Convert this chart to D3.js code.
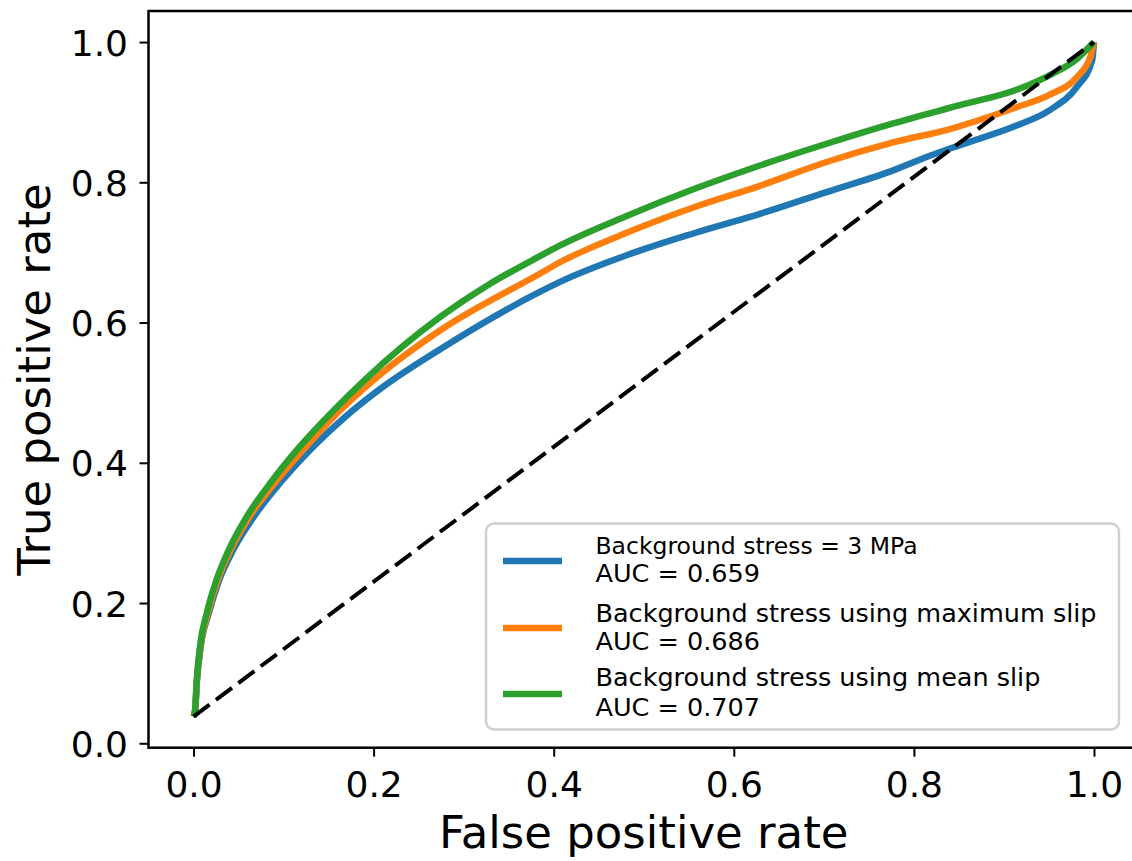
<!DOCTYPE html>
<html>
<head>
<meta charset="utf-8">
<script src="https://cdn.jsdelivr.net/npm/d3@7"></script>
<style>
  html, body { margin: 0; padding: 0; background: #fff; }
  svg { display: block; font-family: "DejaVu Sans", sans-serif; }
</style>
</head>
<body>
<svg id="chart" width="1132" height="861"></svg>
<script>
// ---- data ----
const tickValues = [0.0, 0.2, 0.4, 0.6, 0.8, 1.0];

const blueFpr  = [0, 0.0018, 0.0039, 0.008, 0.0168, 0.028, 0.045, 0.068, 0.098, 0.133, 0.168, 0.207, 0.274, 0.385, 0.407, 0.481, 0.555, 0.629, 0.703, 0.777, 0.814, 0.851, 0.914, 0.951, 0.981, 0.998, 1.0];
const blueTpr  = [0.038, 0.047, 0.09, 0.138, 0.185, 0.231, 0.278, 0.325, 0.374, 0.423, 0.465, 0.505, 0.562, 0.644, 0.658, 0.696, 0.727, 0.755, 0.786, 0.817, 0.836, 0.853, 0.881, 0.903, 0.936, 0.974, 1.0];

const orangeFpr = [0, 0.0017, 0.0037, 0.0076, 0.0158, 0.0265, 0.042, 0.063, 0.092, 0.125, 0.159, 0.198, 0.274, 0.385, 0.407, 0.481, 0.555, 0.629, 0.703, 0.777, 0.84, 0.914, 0.951, 0.981, 0.996, 1.0];
const orangeTpr = [0.038, 0.047, 0.09, 0.138, 0.185, 0.231, 0.278, 0.325, 0.374, 0.423, 0.47, 0.516, 0.589, 0.67, 0.686, 0.728, 0.764, 0.795, 0.829, 0.857, 0.876, 0.907, 0.925, 0.95, 0.979, 1.0];

const greenFpr = [0, 0.0017, 0.0036, 0.0072, 0.015, 0.025, 0.04, 0.06, 0.087, 0.118, 0.152, 0.19, 0.274, 0.329, 0.385, 0.407, 0.481, 0.555, 0.629, 0.703, 0.777, 0.851, 0.914, 0.951, 0.981, 1.0];
const greenTpr = [0.038, 0.047, 0.09, 0.138, 0.187, 0.231, 0.278, 0.325, 0.374, 0.423, 0.47, 0.518, 0.608, 0.655, 0.695, 0.71, 0.752, 0.79, 0.824, 0.855, 0.884, 0.91, 0.932, 0.953, 0.976, 1.0];

const chanceFpr = [0, 1];
const chanceTpr = [0.038, 1];

const seriesNames = ["Background stress = 3 MPa", "Background stress using maximum slip", "Background stress using mean slip"];
const aucLabels = ["AUC = 0.659", "AUC = 0.686", "AUC = 0.707"];
const colors = ["#1f77b4", "#ff7f0e", "#2ca02c"];

// ---- layout ----
const svg = d3.select("#chart");
const L = 148.5, R = 1139, T = 11, B = 747.7;

const x = d3.scaleLinear().domain([-0.05, 1.05]).range([L, R]);
const y = d3.scaleLinear().domain([-0.0063, 1.0443]).range([B, T]);

const zip = (a, b) => a.map((v, i) => [v, b[i]]);
const series = [zip(blueFpr, blueTpr), zip(orangeFpr, orangeTpr), zip(greenFpr, greenTpr)];

svg.append("defs").append("clipPath").attr("id", "clip")
  .append("rect").attr("x", L).attr("y", T).attr("width", R - L).attr("height", B - T);

const line = d3.line().x(d => x(d[0])).y(d => y(d[1])).curve(d3.curveMonotoneX);

const plot = svg.append("g").attr("clip-path", "url(#clip)");
series.forEach((s, i) => {
  plot.append("path").datum(s)
    .attr("d", line)
    .attr("fill", "none")
    .attr("stroke", colors[i])
    .attr("stroke-width", 6.5)
    .attr("stroke-linejoin", "round")
    .attr("stroke-linecap", "butt");
});

plot.append("path").datum(zip(chanceFpr, chanceTpr))
  .attr("d", d3.line().x(d => x(d[0])).y(d => y(d[1])))
  .attr("fill", "none")
  .attr("stroke", "#000")
  .attr("stroke-width", 4)
  .attr("stroke-dasharray", "20,8");

// ---- axes ----
const fmt = d3.format(".1f");
const xAxis = svg.append("g").attr("transform", `translate(0,${B})`)
  .call(d3.axisBottom(x).tickValues(tickValues).tickFormat(fmt).tickSize(9).tickSizeOuter(0));
xAxis.select(".domain").remove();
xAxis.selectAll(".tick line").attr("stroke", "#000").attr("stroke-width", 2);
xAxis.selectAll(".tick text").attr("y", 49).attr("dy", 0)
  .attr("font-size", 36).attr("font-family", "DejaVu Sans").attr("fill", "#000");

const yAxis = svg.append("g").attr("transform", `translate(${L},0)`)
  .call(d3.axisLeft(y).tickValues(tickValues).tickFormat(fmt).tickSize(9).tickSizeOuter(0));
yAxis.select(".domain").remove();
yAxis.selectAll(".tick line").attr("stroke", "#000").attr("stroke-width", 2);
yAxis.selectAll(".tick text").attr("x", -20.5).attr("dy", "0.36em")
  .attr("font-size", 36).attr("font-family", "DejaVu Sans").attr("fill", "#000");

// spines
svg.append("rect").attr("x", L).attr("y", T).attr("width", R - L).attr("height", B - T)
  .attr("fill", "none").attr("stroke", "#000").attr("stroke-width", 2.5);

// axis labels
svg.append("text").attr("x", (L + R) / 2).attr("y", 848)
  .attr("text-anchor", "middle").attr("font-size", 45).attr("fill", "#000")
  .text("False positive rate");
svg.append("text").attr("transform", `translate(50,${(T + B) / 2}) rotate(-90)`)
  .attr("text-anchor", "middle").attr("font-size", 45).attr("fill", "#000")
  .text("True positive rate");

// ---- legend ----
const lg = svg.append("g");
lg.append("rect").attr("x", 486).attr("y", 523.5).attr("width", 633).attr("height", 206)
  .attr("rx", 8).attr("fill", "#fff").attr("fill-opacity", 0.8)
  .attr("stroke", "#d0d0d0").attr("stroke-width", 2.5);

const nameY = [554, 622, 686];
const aucY = [582, 650, 716];
const handleY = [561, 628, 694];
const nameSize = [23.5, 25.5, 25.5];
seriesNames.forEach((n, i) => {
  lg.append("line").attr("x1", 503).attr("x2", 562).attr("y1", handleY[i]).attr("y2", handleY[i])
    .attr("stroke", colors[i]).attr("stroke-width", 6.5);
  const t = lg.append("text").attr("fill", "#000");
  t.append("tspan").attr("x", 595.5).attr("y", nameY[i]).attr("font-size", nameSize[i]).text(n);
  t.append("tspan").attr("x", 595.5).attr("y", aucY[i]).attr("font-size", 25.5).text(aucLabels[i]);
});
</script>
</body>
</html>
